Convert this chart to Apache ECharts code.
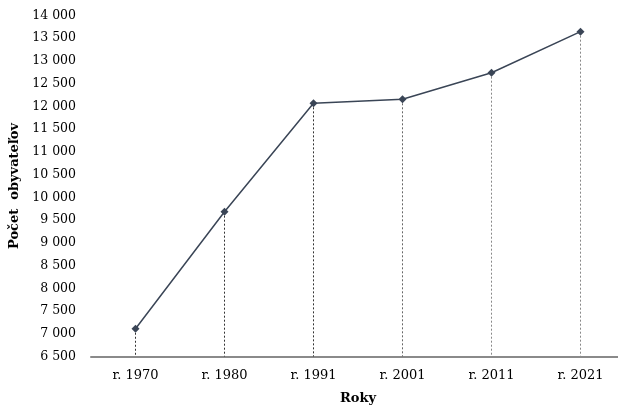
<!DOCTYPE html>
<html>
<head>
<meta charset="utf-8">
<script src="https://cdn.jsdelivr.net/npm/echarts@6/dist/echarts.min.js"></script>
<style>
  html, body { margin: 0; padding: 0; background: #fff; }
  #chart { width: 618px; height: 407px; }
</style>
</head>
<body>
<div id="chart"></div>
<script>
const years = ['r. 1970', 'r. 1980', 'r. 1991', 'r. 2001', 'r. 2011', 'r. 2021'];
const population = [7110, 9685, 12068, 12157, 12742, 13644];
const dropColors = ['#333', '#333', '#333', '#666', '#888', '#888'];

const yMin = 6500;
const yMax = 14000;
const yStep = 500;

const font = 'DejaVu Serif';

const fmt = v => {
  const s = String(v);
  return s.length > 3 ? s.slice(0, -3) + ' ' + s.slice(-3) : s;
};

const chart = echarts.init(document.getElementById('chart'));

const dropLines = years.map((y, i) => [
  { coord: [y, population[i]], lineStyle: { color: dropColors[i] } },
  { coord: [y, yMin] }
]);

chart.setOption({
  animation: false,
  grid: {
    left: 91,
    top: 15.5,
    width: 534,
    bottom: 50.5,
    outerBoundsMode: 'none',
    containLabel: false
  },
  xAxis: {
    type: 'category',
    data: years,
    boundaryGap: true,
    name: 'Roky',
    nameLocation: 'middle',
    nameGap: 36,
    nameTextStyle: { fontFamily: font, fontWeight: 'bold', fontSize: 13, color: '#000' },
    axisLine: { lineStyle: { color: '#8a8a8a', width: 2 } },
    axisTick: { show: false },
    axisLabel: { fontFamily: font, fontSize: 13, color: '#000', margin: 13 },
    splitLine: { show: false }
  },
  yAxis: {
    type: 'value',
    min: yMin,
    max: yMax,
    interval: yStep,
    name: 'Počet  obyvateľov',
    nameLocation: 'middle',
    nameGap: 70,
    nameTextStyle: { fontFamily: font, fontWeight: 'bold', fontSize: 13, color: '#000' },
    axisLine: { show: false },
    axisTick: { show: false },
    splitLine: { show: false },
    axisLabel: { fontFamily: font, fontSize: 12.5, color: '#000', margin: 15, formatter: fmt }
  },
  series: [
    {
      type: 'line',
      data: population,
      symbol: 'diamond',
      symbolSize: 8,
      lineStyle: { color: '#3a4556', width: 1.5 },
      itemStyle: { color: '#3a4556' },
      z: 3,
      markLine: {
        silent: true,
        symbol: 'none',
        label: { show: false },
        lineStyle: { type: [2, 2], width: 1 },
        data: dropLines,
        z: 1
      }
    }
  ]
});
</script>
</body>
</html>
